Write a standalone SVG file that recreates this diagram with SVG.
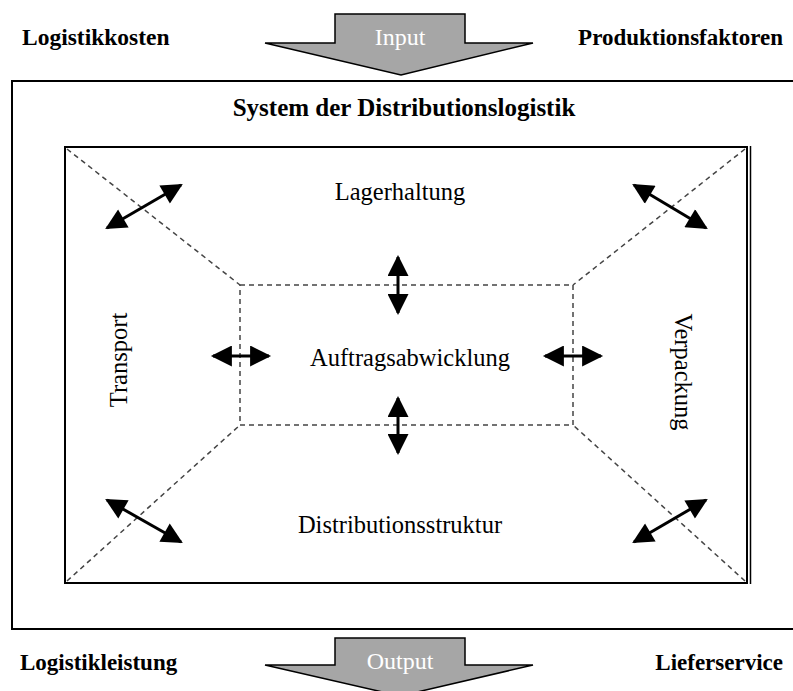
<svg xmlns="http://www.w3.org/2000/svg" width="793" height="691" viewBox="0 0 793 691">
  <style>
    .bold { font-family: "Liberation Serif", "Times New Roman", serif; font-weight: bold; font-size: 23px; fill: #000; }
    .reg { font-family: "Liberation Serif", "Times New Roman", serif; font-size: 24.5px; fill: #000; }
    .flow-label { font-family: "Liberation Serif", "Times New Roman", serif; font-size: 24px; fill: #fff; }
    .flow { fill: #a6a6a6; stroke: #000; stroke-width: 1.5; stroke-linejoin: miter; }
    .frame { fill: none; stroke: #000; stroke-width: 2; }
    .dash { fill: none; stroke: #444; stroke-width: 1.5; stroke-dasharray: 5 4; }
    .link { fill: none; stroke: #000; stroke-width: 3; marker-start: url(#head); marker-end: url(#head); }
  </style>
  <defs>
    <marker id="head" viewBox="0 0 10 10" refX="9" refY="5" markerWidth="7.5" markerHeight="7" markerUnits="strokeWidth" orient="auto-start-reverse">
      <path d="M0,0 L10,5 L0,10 Z" fill="#000"/>
    </marker>
  </defs>

  <rect width="793" height="691" fill="#fff"/>

  <!-- input / output flow arrows -->
  <g id="input">
    <path class="flow" d="M335,14 H465 V43 H533 L401,75 L265,43 H335 Z"/>
    <text class="flow-label" x="400" y="45" text-anchor="middle">Input</text>
  </g>
  <g id="output">
    <path class="flow" d="M335,638 H465 V665 H533 L400,696 L265,665 H335 Z"/>
    <text class="flow-label" x="400" y="669" text-anchor="middle">Output</text>
  </g>

  <!-- corner labels -->
  <g id="logistikkosten"><text class="bold" x="22" y="45" style="font-size:23.5px">Logistikkosten</text></g>
  <g id="produktionsfaktoren"><text class="bold" x="783" y="45" text-anchor="end">Produktionsfaktoren</text></g>
  <g id="logistikleistung"><text class="bold" x="20" y="670">Logistikleistung</text></g>
  <g id="lieferservice"><text class="bold" x="783" y="670" text-anchor="end">Lieferservice</text></g>

  <!-- system frame -->
  <g id="system">
    <rect class="frame" x="12" y="81" width="800" height="548"/>
    <text class="bold" x="404" y="116" text-anchor="middle" style="font-size:25px">System der Distributionslogistik</text>
    <rect class="frame" x="65" y="147" width="682" height="436"/>
    <line x1="750.5" y1="146" x2="750.5" y2="584" stroke="#000" stroke-width="1.5"/>
  </g>

  <!-- perspective guides -->
  <g id="guides">
    <rect class="dash" x="240" y="285" width="333" height="140"/>
    <line class="dash" x1="67" y1="149" x2="240" y2="285"/>
    <line class="dash" x1="745" y1="149" x2="573" y2="285"/>
    <line class="dash" x1="67" y1="581" x2="240" y2="425"/>
    <line class="dash" x1="745" y1="581" x2="573" y2="425"/>
  </g>

  <!-- function areas -->
  <g id="lagerhaltung"><text class="reg" x="400" y="200" text-anchor="middle">Lagerhaltung</text></g>
  <g id="auftragsabwicklung"><text class="reg" x="410" y="366" text-anchor="middle">Auftragsabwicklung</text></g>
  <g id="distributionsstruktur"><text class="reg" x="400" y="533" text-anchor="middle">Distributionsstruktur</text></g>
  <g id="transport"><text class="reg" transform="translate(127,360) rotate(-90)" text-anchor="middle">Transport</text></g>
  <g id="verpackung"><text class="reg" transform="translate(675,372) rotate(90)" text-anchor="middle">Verpackung</text></g>

  <!-- interactions -->
  <g id="connectors">
    <line class="link" x1="107" y1="228" x2="181" y2="185"/>
    <line class="link" x1="634" y1="185" x2="706" y2="228"/>
    <line class="link" x1="107" y1="500" x2="181" y2="542"/>
    <line class="link" x1="706" y1="500" x2="634" y2="542"/>
    <line class="link" x1="398" y1="257" x2="398" y2="313"/>
    <line class="link" x1="398" y1="398" x2="398" y2="453"/>
    <line class="link" x1="213" y1="356" x2="269" y2="356"/>
    <line class="link" x1="545" y1="356" x2="601" y2="356"/>
  </g>
</svg>
